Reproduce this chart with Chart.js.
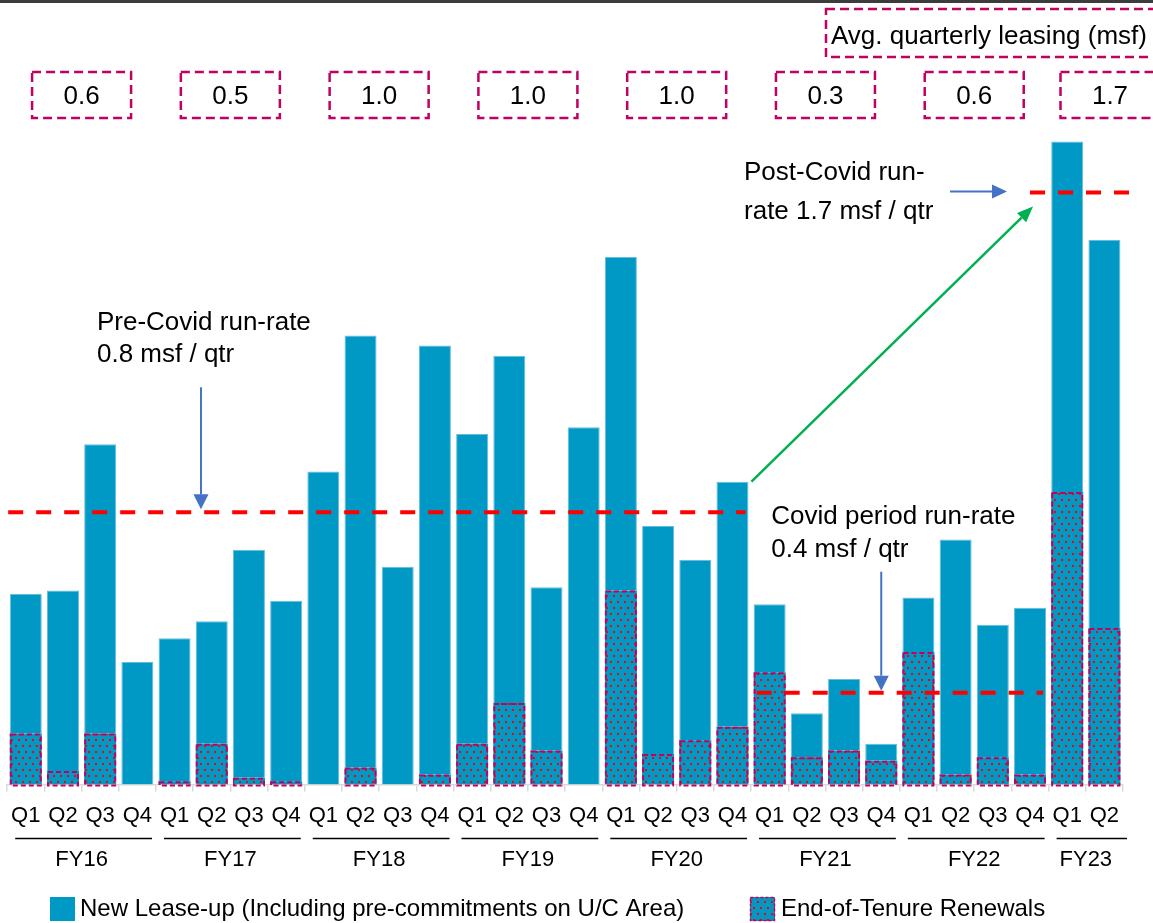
<!DOCTYPE html>
<html>
<head>
<meta charset="utf-8">
<script src="https://cdn.jsdelivr.net/npm/chart.js@4"></script>
<style>
html,body{margin:0;padding:0;background:#fff;}
</style>
</head>
<body>
<canvas id="chart" width="1153" height="923"></canvas>
<script>
// quarters FY16 Q1 .. FY23 Q2, values in msf
const quarterLabels = ["Q1","Q2","Q3","Q4","Q1","Q2","Q3","Q4","Q1","Q2","Q3","Q4","Q1","Q2","Q3","Q4",
  "Q1","Q2","Q3","Q4","Q1","Q2","Q3","Q4","Q1","Q2","Q3","Q4","Q1","Q2"];
const fiscalYears = ["FY16","FY17","FY18","FY19","FY20","FY21","FY22","FY23"];
const quartersPerYear = [4,4,4,4,4,4,4,2];
const avgQuarterly = ["0.6","0.5","1.0","1.0","1.0","0.3","0.6","1.7"];

const renewals = [0.15,0.04,0.15,0, 0.01,0.12,0.02,0.01, 0,0.05,0,0.03, 0.12,0.24,0.10,0,
  0.57,0.09,0.13,0.17, 0.33,0.08,0.10,0.07, 0.39,0.03,0.08,0.03, 0.86,0.46];
const newLeaseUp = [0.41,0.53,0.85,0.36, 0.42,0.36,0.67,0.53, 0.92,1.27,0.64,1.26, 0.91,1.02,0.48,1.05,
  0.98,0.67,0.53,0.72, 0.20,0.13,0.21,0.05, 0.16,0.69,0.39,0.49, 1.03,1.14];

// run-rate lines as drawn: level, first quarter, last quarter
const runRateLevels = [0.80, 0.27, 1.74];
const runRateSpans = [[0,19],[20,27],[28,29]];
const runRateText = [["Pre-Covid run-rate","0.8 msf / qtr"],["Covid period run-rate","0.4 msf / qtr"],["Post-Covid run-","rate 1.7 msf / qtr"]];

const legendLabels = ["New Lease-up (Including pre-commitments on U/C Area)","End-of-Tenure Renewals"];
const avgTitle = "Avg. quarterly leasing (msf)";

const W = 1153;
const teal = '#0098C4';
const magenta = '#C00062';
const FONT = "'Liberation Sans', Arial, sans-serif";

const canvas = document.getElementById('chart');
const mainCtx = canvas.getContext('2d');

function makePattern(){
  const c = document.createElement('canvas');
  c.width = 7; c.height = 12;
  const g = c.getContext('2d');
  g.fillStyle = teal; g.fillRect(0,0,7,12);
  g.fillStyle = '#FF0000';
  g.fillRect(1,1,2,2); g.fillRect(4,7,2,2);
  return mainCtx.createPattern(c,'repeat');
}
const hatch = makePattern();

function arrow(ctx, x1, y1, x2, y2, color, lw, hl, hw){
  const a = Math.atan2(y2-y1, x2-x1);
  const bx = x2 - hl*Math.cos(a), by = y2 - hl*Math.sin(a);
  ctx.setLineDash([]);
  ctx.strokeStyle = color; ctx.lineWidth = lw;
  ctx.beginPath(); ctx.moveTo(x1,y1); ctx.lineTo(bx,by); ctx.stroke();
  ctx.fillStyle = color;
  ctx.beginPath(); ctx.moveTo(x2,y2);
  ctx.lineTo(bx + hw/2*Math.sin(a), by - hw/2*Math.cos(a));
  ctx.lineTo(bx - hw/2*Math.sin(a), by + hw/2*Math.cos(a));
  ctx.closePath(); ctx.fill();
}

function text(ctx, s, x, y, size, align){
  ctx.fillStyle = '#000';
  ctx.font = size + 'px ' + FONT;
  ctx.textAlign = align || 'left';
  ctx.textBaseline = 'middle';
  ctx.fillText(s, x, y);
}

const overlay = {
  id: 'overlay',
  afterDatasetsDraw(chart){
    const ctx = chart.ctx;
    const xs = chart.scales.x, ys = chart.scales.y;
    const catW = xs.getPixelForValue(1) - xs.getPixelForValue(0);
    ctx.save();

    // dashed outline of renewal segments
    const rMeta = chart.getDatasetMeta(0);
    ctx.strokeStyle = magenta; ctx.lineWidth = 2; ctx.setLineDash([5,3]);
    rMeta.data.forEach((bar, i) => {
      if (!renewals[i]) return;
      const p = bar.getProps(['x','y','base','width'], true);
      ctx.strokeRect(p.x - p.width/2 + 1, p.y + 1, p.width - 2, p.base - p.y);
    });

    // run-rate dashed lines
    const nMeta = chart.getDatasetMeta(1);
    const half = nMeta.data[0].width / 2;
    const lineY = runRateLevels.map(v => ys.getPixelForValue(v));
    const segs = [
      [xs.getPixelForValue(runRateSpans[0][0]) - catW/2 + 1, xs.getPixelForValue(runRateSpans[0][1]) + half - 3],
      [xs.getPixelForValue(runRateSpans[1][0]) - half + 3, xs.getPixelForValue(runRateSpans[1][1]) + half - 3],
      [xs.getPixelForValue(runRateSpans[2][0]) - catW, xs.getPixelForValue(runRateSpans[2][1]) + catW]
    ];
    ctx.strokeStyle = '#FF0000'; ctx.lineWidth = 4; ctx.setLineDash([15,13]);
    segs.forEach((s, k) => {
      ctx.beginPath(); ctx.moveTo(s[0], lineY[k]); ctx.lineTo(s[1], lineY[k]); ctx.stroke();
    });

    // pre-covid annotation
    const preX = xs.getPixelForValue(4.71);
    text(ctx, runRateText[0][0], preX - 104, lineY[0] - 190, 26);
    text(ctx, runRateText[0][1], preX - 104, lineY[0] - 158, 26);
    arrow(ctx, preX, lineY[0] - 125, preX, lineY[0] - 3, '#4472C4', 2, 15, 15);

    // covid annotation
    const covX = xs.getPixelForValue(23);
    text(ctx, runRateText[1][0], covX - 110, lineY[1] - 176, 26);
    text(ctx, runRateText[1][1], covX - 110, lineY[1] - 143, 26);
    arrow(ctx, covX, lineY[1] - 121, covX, lineY[1] - 2, '#4472C4', 2, 15, 15);

    // post-covid annotation
    const postEnd = segs[2][0] - 23;
    text(ctx, runRateText[2][0], postEnd - 263, lineY[2] - 20, 26);
    text(ctx, runRateText[2][1], postEnd - 263, lineY[2] + 19, 26);
    arrow(ctx, postEnd - 57, lineY[2] - 1, postEnd, lineY[2] - 1, '#4472C4', 2, 15, 14);

    // green arrow from FY20 Q4 to post-covid level
    const b19 = nMeta.data[19];
    arrow(ctx, b19.x + b19.width/2 + 3, b19.y, segs[2][0] + 3, lineY[2] + 14, '#00B050', 2.5, 16, 13);

    ctx.restore();
  },
  afterDraw(chart){
    const ctx = chart.ctx;
    const xs = chart.scales.x;
    const catW = xs.getPixelForValue(1) - xs.getPixelForValue(0);
    ctx.save();

    // top band
    ctx.fillStyle = '#3C3C3C'; ctx.fillRect(0, 0, W, 3);

    let start = 0;
    fiscalYears.forEach((fy, k) => {
      const n = quartersPerYear[k];
      const left = xs.getPixelForValue(start) - catW/2;
      const right = xs.getPixelForValue(start + n - 1) + catW/2;
      // group underline + label
      ctx.setLineDash([]);
      ctx.strokeStyle = '#000'; ctx.lineWidth = 1.3;
      ctx.beginPath(); ctx.moveTo(left + 8, 838.5); ctx.lineTo(right - (k === 7 ? -4 : 4), 838.5); ctx.stroke();
      text(ctx, fy, (left + right)/2, 860, 22, 'center');
      // average box
      const cx = Math.min(left + 2*catW, W - 43);
      ctx.strokeStyle = magenta; ctx.lineWidth = 2.5; ctx.setLineDash([9,5]);
      ctx.strokeRect(cx - 49.5, 72, 99, 46);
      text(ctx, avgQuarterly[k], cx, 97, 26, 'center');
      start += n;
    });

    // avg title box
    ctx.strokeStyle = magenta; ctx.lineWidth = 2.5; ctx.setLineDash([9,5]);
    ctx.strokeRect(826, 9, 340, 48);
    text(ctx, avgTitle, 831, 37, 26);

    // legend
    ctx.setLineDash([]);
    ctx.fillStyle = teal; ctx.fillRect(50, 897, 25, 24);
    text(ctx, legendLabels[0], 80, 909, 24);
    ctx.fillStyle = hatch; ctx.fillRect(750, 897, 25, 24);
    ctx.strokeStyle = magenta; ctx.lineWidth = 1.5; ctx.setLineDash([3,2]);
    ctx.strokeRect(750.5, 897.5, 24, 23);
    text(ctx, legendLabels[1], 781, 909, 24);

    ctx.restore();
  }
};

new Chart(canvas, {
  type: 'bar',
  data: {
    labels: quarterLabels,
    datasets: [
      {
        label: legendLabels[1],
        data: renewals,
        backgroundColor: hatch,
        borderWidth: 0,
        categoryPercentage: 1,
        barPercentage: 0.86
      },
      {
        label: legendLabels[0],
        data: newLeaseUp,
        backgroundColor: teal,
        borderColor: '#66BEDD',
        borderWidth: 1,
        categoryPercentage: 1,
        barPercentage: 0.86
      }
    ]
  },
  options: {
    responsive: false,
    animation: false,
    layout: { padding: { left: 7, right: 30, top: 138, bottom: 83 } },
    plugins: { legend: { display: false }, tooltip: { enabled: false } },
    scales: {
      x: {
        stacked: true,
        grid: { display: true, drawOnChartArea: false, color: '#D9D9D9', tickLength: 7, lineWidth: 1.5 },
        border: { color: '#D9D9D9', width: 1.5 },
        ticks: { color: '#000', font: { family: FONT, size: 22 }, padding: 11, autoSkip: false, maxRotation: 0 }
      },
      y: {
        stacked: true,
        display: false,
        min: 0,
        max: 1.9
      }
    }
  },
  plugins: [overlay]
});
</script>
</body>
</html>
